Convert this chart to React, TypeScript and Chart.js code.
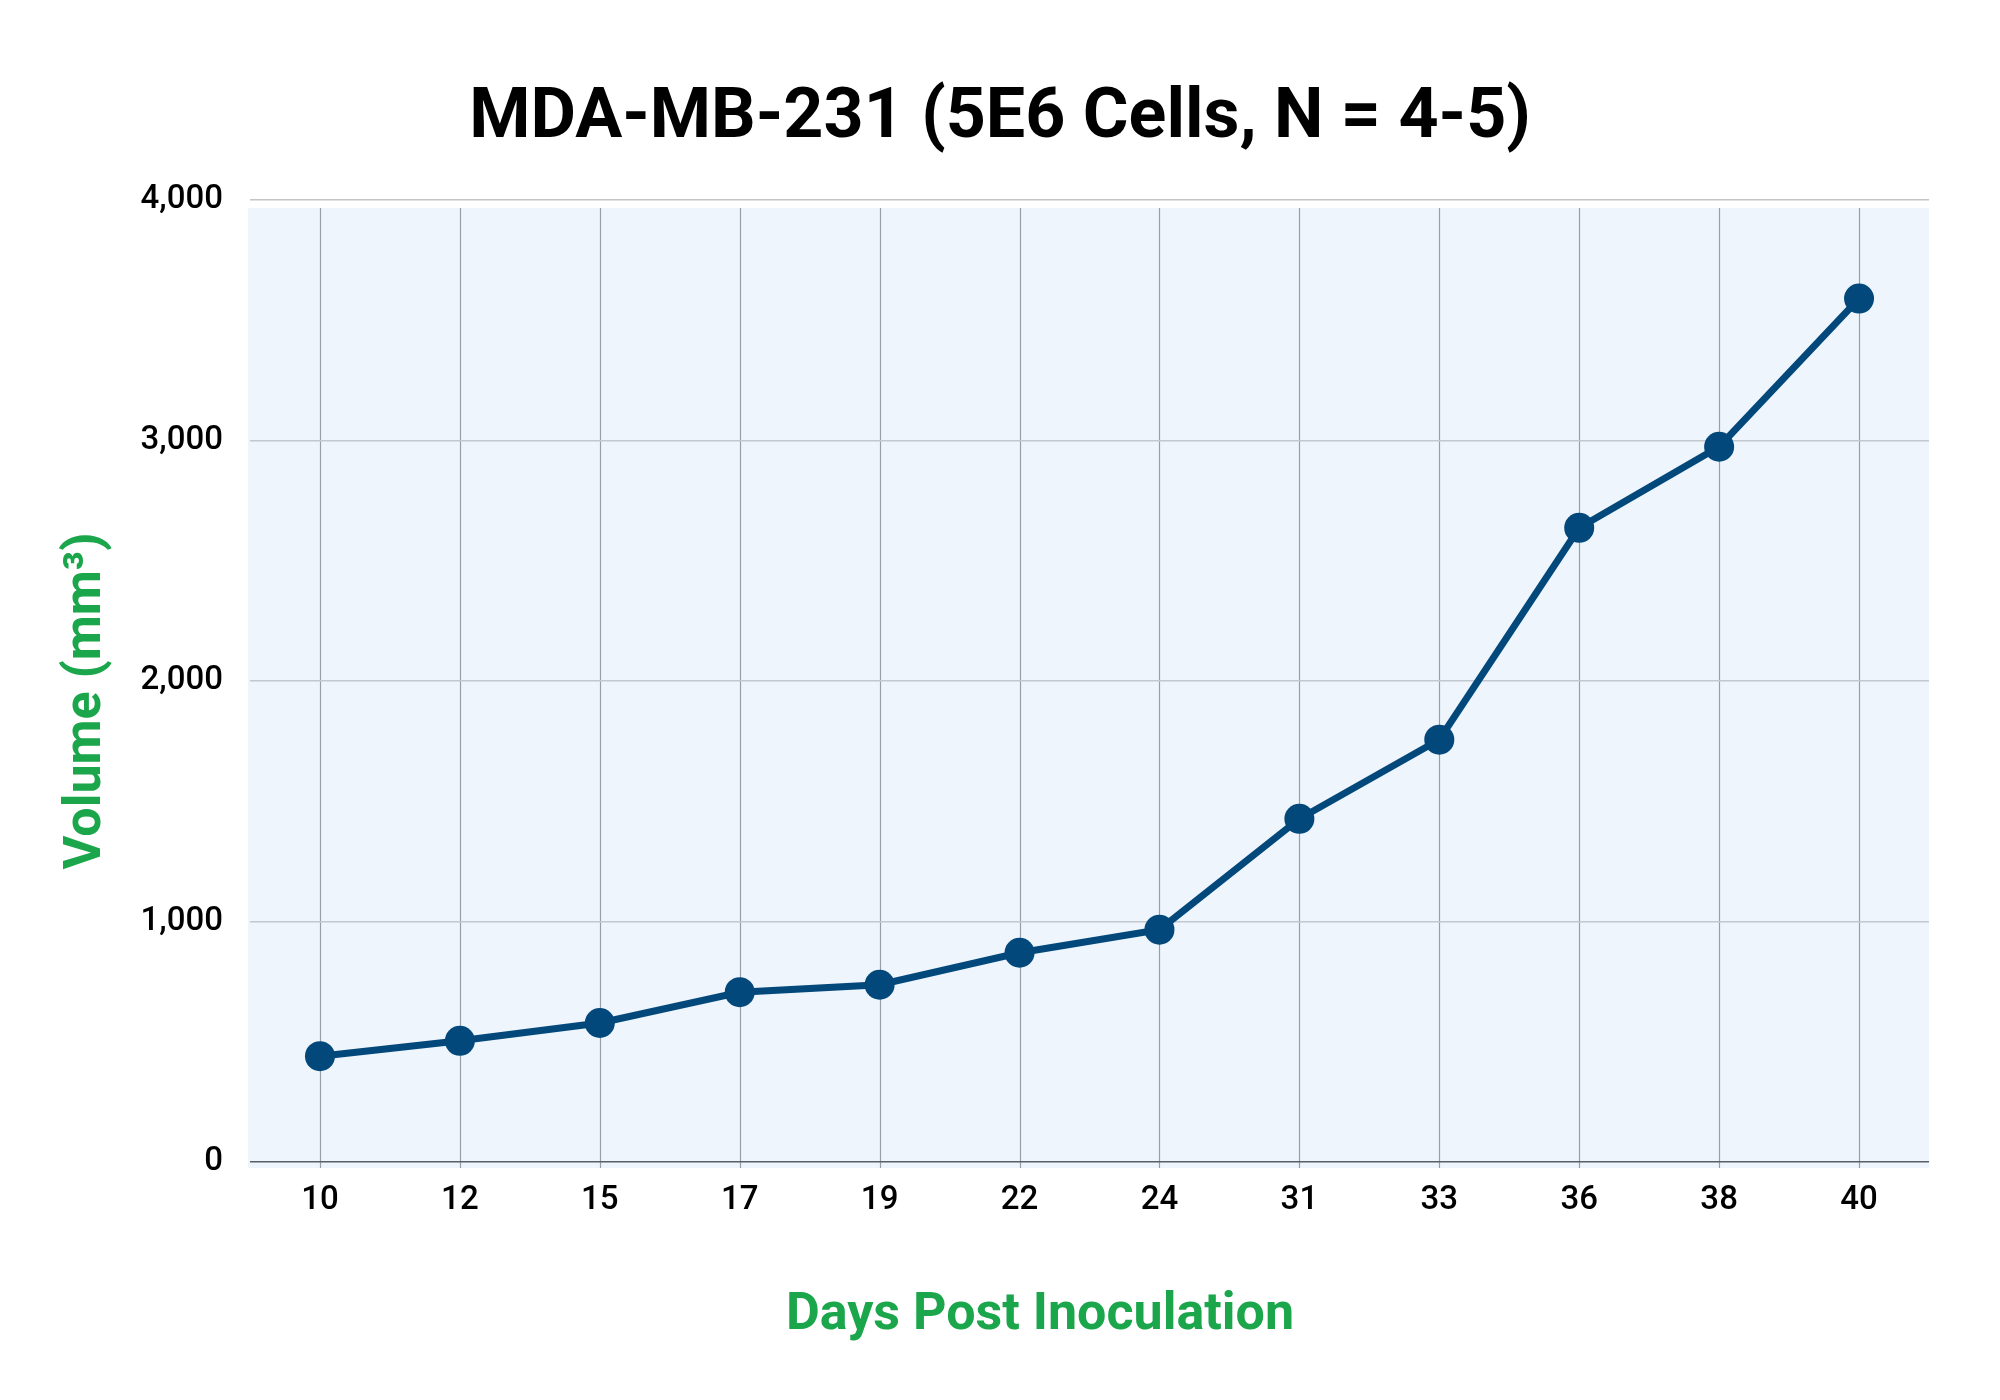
import React, { useEffect, useRef } from "react";
import { Chart, registerables } from "chart.js";

Chart.register(...registerables);

const days: string[] = ["10", "12", "15", "17", "19", "22", "24", "31", "33", "36", "38", "40"];
const volumes: number[] = [440, 504, 578, 706, 737, 870, 966, 1427, 1756, 2637, 2974, 3590];
const yTicks: number[] = [0, 1000, 2000, 3000, 4000];

const TITLE = "MDA-MB-231 (5E6 Cells, N = 4-5)";
const X_TITLE = "Days Post Inoculation";
const Y_TITLE = "Volume (mm³)";

const LINE_COLOR = "#03487B";
const GREEN = "#1BA64B";
const FONT = "Roboto";

const decorPlugin = {
  id: "decor",
  beforeDraw(chart: any) {
    const { ctx, chartArea } = chart;
    const xs = chart.scales.x;
    ctx.save();
    ctx.fillStyle = "#FFFFFF";
    ctx.fillRect(0, 0, chart.width, chart.height);
    ctx.fillStyle = "#EEF5FD";
    const top = chartArea.top + 8;
    const bottom = chartArea.bottom + 6;
    ctx.fillRect(chartArea.left - 2, top, chartArea.right - chartArea.left + 2, bottom - top);
    ctx.strokeStyle = "#9A9FA6";
    ctx.lineWidth = 1.2;
    for (let i = 0; i < days.length; i++) {
      const x = Math.round(xs.getPixelForValue(i)) + 0.5;
      ctx.beginPath();
      ctx.moveTo(x, top);
      ctx.lineTo(x, bottom);
      ctx.stroke();
    }
    ctx.restore();
  },
  afterDraw(chart: any) {
    const { ctx } = chart;
    ctx.save();
    ctx.fillStyle = "#000000";
    ctx.textAlign = "center";
    ctx.textBaseline = "middle";
    ctx.font = `bold 70px ${FONT}`;
    ctx.fillText(TITLE, 1000, 119);

    ctx.fillStyle = GREEN;
    ctx.font = `bold 52px ${FONT}`;
    ctx.textBaseline = "alphabetic";
    ctx.fillText(X_TITLE, 1040, 1329);

    ctx.translate(100, 701);
    ctx.rotate(-Math.PI / 2);
    ctx.fillText(Y_TITLE, 0, 0);
    ctx.restore();
  },
};

export default function App() {
  const ref = useRef<HTMLCanvasElement | null>(null);

  useEffect(() => {
    document.body.style.margin = "0";
    if (!ref.current) return;
    const chart = new Chart(ref.current, {
      type: "line",
      data: {
        labels: days,
        datasets: [
          {
            data: volumes,
            borderColor: LINE_COLOR,
            backgroundColor: LINE_COLOR,
            borderWidth: 7,
            pointRadius: 15,
            pointHoverRadius: 15,
            pointBackgroundColor: LINE_COLOR,
            pointBorderColor: LINE_COLOR,
            pointBorderWidth: 0,
            tension: 0,
            clip: false as any,
          },
        ],
      },
      options: {
        responsive: false,
        animation: false,
        devicePixelRatio: 1,
        layout: { padding: { left: 0, right: 71, top: 200, bottom: 0 } },
        plugins: {
          legend: { display: false },
          title: { display: false },
          tooltip: { enabled: false },
        },
        scales: {
          x: {
            type: "category",
            offset: true,
            grid: { display: false, drawTicks: false },
            border: { display: false },
            ticks: {
              color: "#000000",
              font: { family: FONT, size: 33, weight: "500" },
              padding: 19,
              maxRotation: 0,
              autoSkip: false,
            },
            afterFit(scale: any) {
              scale.height = 238;
            },
          },
          y: {
            min: 0,
            max: 4000,
            afterBuildTicks(scale: any) {
              scale.ticks = yTicks.map((v) => ({ value: v }));
            },
            grid: {
              drawTicks: false,
              lineWidth: 1.5,
              color: (c: any) => {
                const v = c.tick ? c.tick.value : null;
                if (v === 0) return "#5A5F66";
                if (v === 4000) return "#C4C4C4";
                return "#C3C8CF";
              },
            },
            border: { display: false },
            ticks: {
              color: "#000000",
              font: { family: FONT, size: 33, weight: "500" },
              padding: 27,
              callback: (v: any) => Number(v).toLocaleString("en-US"),
            },
            afterFit(scale: any) {
              scale.width = 250;
            },
          },
        },
      },
      plugins: [decorPlugin],
    });
    return () => chart.destroy();
  }, []);

  return (
    <div style={{ width: 2000, height: 1400 }}>
      <canvas ref={ref} width={2000} height={1400} style={{ display: "block" }} />
    </div>
  );
}
